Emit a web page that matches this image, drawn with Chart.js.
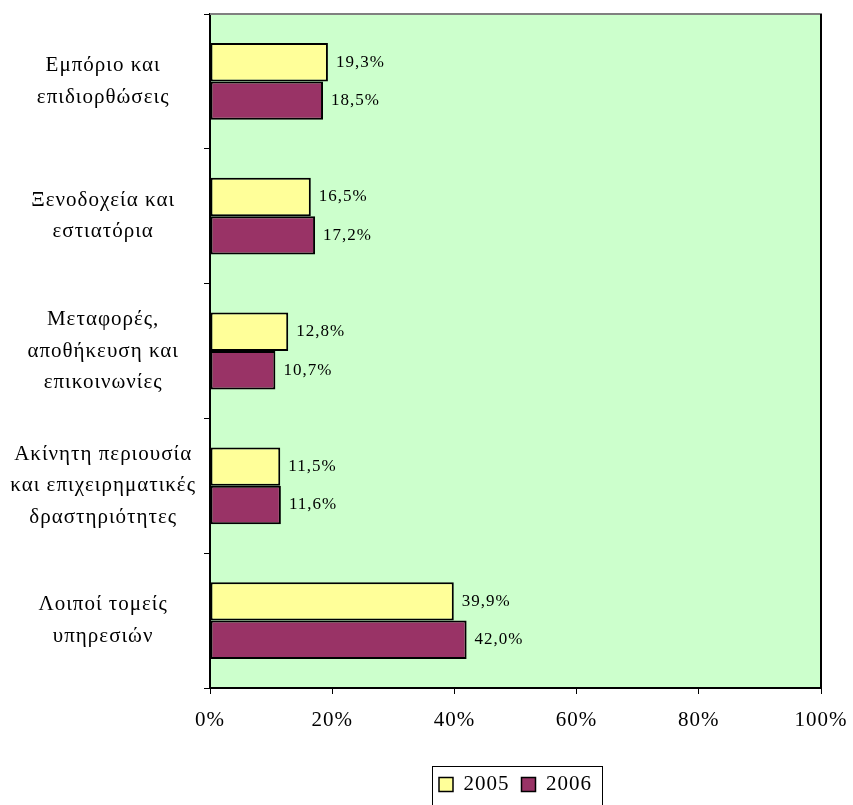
<!DOCTYPE html>
<html><head><meta charset="utf-8">
<script src="https://cdn.jsdelivr.net/npm/chart.js@4/dist/chart.umd.min.js"></script>
<style>html,body{margin:0;padding:0;background:#fff;}#wrap{width:853px;height:805px;}</style>
</head><body><div id="wrap"><canvas id="c" width="853" height="805"></canvas></div>
<script>
const categories = [
  ["Εμπόριο και", "επιδιορθώσεις"],
  ["Ξενοδοχεία και", "εστιατόρια"],
  ["Μεταφορές,", "αποθήκευση και", "επικοινωνίες"],
  ["Ακίνητη περιουσία", "και επιχειρηματικές", "δραστηριότητες"],
  ["Λοιποί τομείς", "υπηρεσιών"]
];
const series2005 = [19.3, 16.5, 12.8, 11.5, 39.9];
const series2006 = [18.5, 17.2, 10.7, 11.6, 42.0];
const seriesNames = ["2005", "2006"];
const xTicks = [0, 20, 40, 60, 80, 100];

const FONT = "'Liberation Serif', 'Times New Roman', serif";

function setSpacing(chart) { try { chart.ctx.letterSpacing = '1px'; } catch (e) {} }

const areaPlugin = {
  id: 'area',
  beforeInit: setSpacing,
  beforeUpdate: setSpacing,
  beforeLayout: setSpacing,
  beforeDraw(chart) {
    setSpacing(chart);
    const {ctx, chartArea: a} = chart;
    ctx.save();
    ctx.fillStyle = '#CCFFCC';
    ctx.fillRect(a.left, a.top, a.right - a.left, a.bottom - a.top);
    ctx.restore();
  },
  afterDatasetsDraw(chart) {
    const {ctx, chartArea: a} = chart;
    ctx.save();
    ctx.lineWidth = 2;
    ctx.strokeStyle = '#808080';
    ctx.beginPath(); ctx.moveTo(a.left, a.top); ctx.lineTo(a.right + 1, a.top); ctx.stroke();
    ctx.strokeStyle = '#000';
    ctx.beginPath(); ctx.moveTo(a.right, a.top); ctx.lineTo(a.right, a.bottom); ctx.stroke();
    // data labels
    ctx.fillStyle = '#000';
    ctx.font = "17px " + FONT;
    ctx.textBaseline = 'middle';
    ctx.textAlign = 'left';
    chart.data.datasets.forEach((ds, i) => {
      chart.getDatasetMeta(i).data.forEach((bar, j) => {
        const txt = ds.data[j].toFixed(1).replace('.', ',') + '%';
        ctx.fillText(txt, bar.x + 8, bar.y);
      });
    });
    ctx.restore();
  },
  afterDraw(chart) {
    const {ctx} = chart;
    const lg = chart.legend;
    if (lg && lg.legendHitBoxes && lg.legendHitBoxes.length) {
      const hb = lg.legendHitBoxes;
      const last = hb[hb.length - 1];
      const l = hb[0].left - 7, r = last.left + last.width + 10;
      const t = 766, b = 812;
      ctx.save();
      ctx.lineWidth = 1;
      ctx.strokeStyle = '#000';
      ctx.strokeRect(Math.round(l) + 0.5, t + 0.5, Math.round(r - l), b - t);
      ctx.restore();
    }
  }
};

new Chart(document.getElementById('c'), {
  type: 'bar',
  data: {
    labels: categories,
    datasets: [
      { label: seriesNames[0], data: series2005, backgroundColor: '#FFFF99', borderColor: '#000', borderWidth: 2, borderSkipped: false },
      { label: seriesNames[1], data: series2006, backgroundColor: '#993366', borderColor: '#000', borderWidth: 2, borderSkipped: false }
    ]
  },
  options: {
    indexAxis: 'y',
    responsive: false,
    animation: false,
    layout: { padding: { top: 14, right: 32, left: 0, bottom: 0 } },
    datasets: { bar: { categoryPercentage: 0.57, barPercentage: 1.0 } },
    scales: {
      x: {
        min: 0, max: 100,
        afterBuildTicks(scale) { scale.ticks = xTicks.map(v => ({ value: v })); },
        ticks: { callback: v => v + '%', color: '#000', font: { family: FONT, size: 21 }, padding: 14, maxRotation: 0 },
        grid: { drawOnChartArea: false, drawTicks: true, tickLength: 6, color: '#000' },
        border: { color: '#000', width: 2 },
        afterFit(scale) { scale.height = 74; scale.paddingLeft = 0; scale.paddingRight = 0; }
      },
      y: {
        ticks: { color: '#000', font: { family: FONT, size: 21, lineHeight: 1.5 }, crossAlign: 'center', padding: 8 },
        grid: { drawOnChartArea: false, drawTicks: true, tickLength: 6, color: '#000', offset: true },
        border: { color: '#000', width: 2 },
        afterFit(scale) { scale.width = 210; scale.paddingTop = 0; scale.paddingBottom = 0; }
      }
    },
    plugins: {
      legend: {
        position: 'bottom',
        fullSize: false,
        labels: { color: '#000', font: { family: FONT, size: 21 }, boxWidth: 14, boxHeight: 14, padding: 12,
          generateLabels(chart) {
            return chart.data.datasets.map((ds, i) => ({ text: ds.label, fillStyle: ds.backgroundColor, strokeStyle: '#000', lineWidth: 1.5, datasetIndex: i, fontColor: '#000' }));
          }
        }
      },
      tooltip: { enabled: false }
    }
  },
  plugins: [areaPlugin]
});
</script></body></html>
